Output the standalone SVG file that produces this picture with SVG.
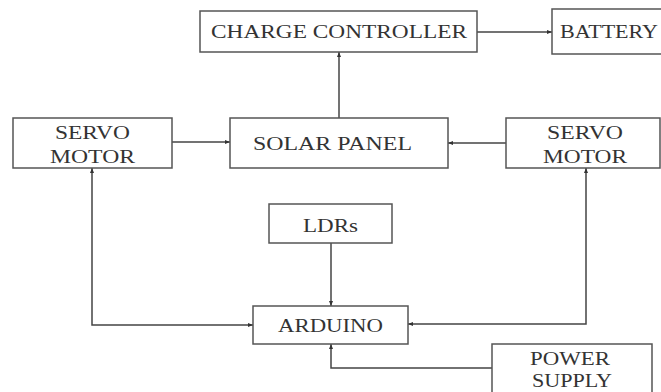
<svg xmlns="http://www.w3.org/2000/svg" width="661" height="392" viewBox="0 0 661 392">
<defs>
<style>
.box{fill:#fff;stroke:#555;stroke-width:1.5}
.t{font-family:"Liberation Serif","Times New Roman",serif;font-size:19px;fill:#333}
.c{fill:none;stroke:#444;stroke-width:1.5}
</style>
<marker id="ah" viewBox="0 0 10 10" refX="10" refY="5" markerWidth="5" markerHeight="5" orient="auto-start-reverse" markerUnits="userSpaceOnUse">
<path d="M0,1 L10,5 L0,9 z" fill="#333"/>
</marker>
</defs>
<rect width="661" height="392" fill="#fff"/>
<g id="connectors">
<line class="c" x1="477" y1="32" x2="552" y2="32" marker-end="url(#ah)"/>
<line class="c" x1="339" y1="118" x2="339" y2="52" marker-end="url(#ah)"/>
<line class="c" x1="172" y1="142" x2="230" y2="142" marker-end="url(#ah)"/>
<line class="c" x1="506" y1="143" x2="448" y2="143" marker-end="url(#ah)"/>
<polyline class="c" points="92,168 92,325 253,325" marker-start="url(#ah)" marker-end="url(#ah)"/>
<polyline class="c" points="586,168 586,324 408,324" marker-start="url(#ah)" marker-end="url(#ah)"/>
<line class="c" x1="331" y1="243" x2="331" y2="306" marker-end="url(#ah)"/>
<polyline class="c" points="492,368 331,368 331,344" marker-end="url(#ah)"/>
</g>
<g id="charge-controller">
<rect class="box" x="200" y="11" width="277" height="41"/>
<text class="t" x="211" y="38" textLength="256" lengthAdjust="spacingAndGlyphs">CHARGE CONTROLLER</text>
</g>
<g id="battery">
<rect class="box" x="552" y="9" width="120" height="45"/>
<text class="t" x="560" y="38" textLength="98" lengthAdjust="spacingAndGlyphs">BATTERY</text>
</g>
<g id="servo-left">
<rect class="box" x="13" y="118" width="159" height="50"/>
<text class="t" x="55" y="139" textLength="75" lengthAdjust="spacingAndGlyphs">SERVO</text>
<text class="t" x="50" y="163" textLength="85" lengthAdjust="spacingAndGlyphs">MOTOR</text>
</g>
<g id="solar-panel">
<rect class="box" x="230" y="118" width="218" height="50"/>
<text class="t" x="253" y="150" textLength="159" lengthAdjust="spacingAndGlyphs">SOLAR PANEL</text>
</g>
<g id="servo-right">
<rect class="box" x="506" y="118" width="154" height="50"/>
<text class="t" x="547" y="139" textLength="76" lengthAdjust="spacingAndGlyphs">SERVO</text>
<text class="t" x="543" y="163" textLength="84" lengthAdjust="spacingAndGlyphs">MOTOR</text>
</g>
<g id="ldrs">
<rect class="box" x="269" y="204" width="123" height="39"/>
<text class="t" x="303" y="232" textLength="55" lengthAdjust="spacingAndGlyphs">LDRs</text>
</g>
<g id="arduino">
<rect class="box" x="253" y="306" width="155" height="38"/>
<text class="t" x="278" y="332" textLength="105" lengthAdjust="spacingAndGlyphs">ARDUINO</text>
</g>
<g id="power-supply">
<rect class="box" x="492" y="344" width="160" height="50"/>
<text class="t" x="530" y="365" textLength="80" lengthAdjust="spacingAndGlyphs">POWER</text>
<text class="t" x="532" y="387" textLength="80" lengthAdjust="spacingAndGlyphs">SUPPLY</text>
</g>
</svg>
